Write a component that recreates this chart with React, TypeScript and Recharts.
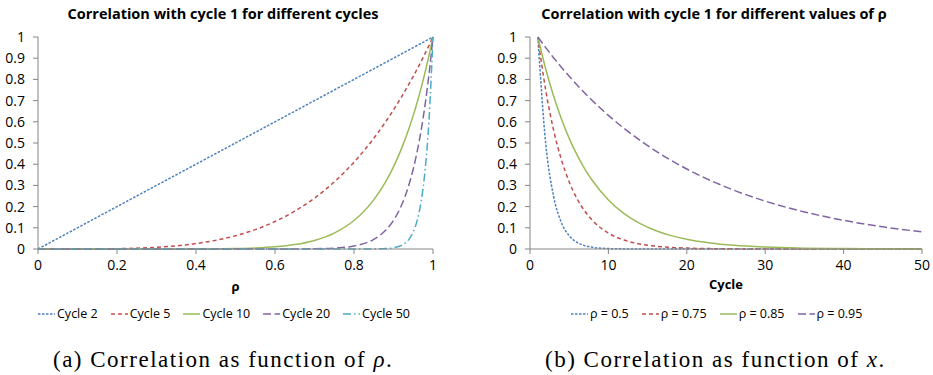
import { LineChart, Line, XAxis, YAxis } from 'recharts';

// ρ values sampled on the left panel
const rhoValues = [0, 0.1, 0.2, 0.3, 0.4, 0.5, 0.55, 0.6, 0.65, 0.7, 0.75, 0.8, 0.85, 0.88, 0.9, 0.92, 0.94, 0.95, 0.96, 0.97, 0.98, 0.99, 1];
const cycle2 = [0, 0.1, 0.2, 0.3, 0.4, 0.5, 0.55, 0.6, 0.65, 0.7, 0.75, 0.8, 0.85, 0.88, 0.9, 0.92, 0.94, 0.95, 0.96, 0.97, 0.98, 0.99, 1];
const cycle5 = [0, 0.0001, 0.0016, 0.0081, 0.0256, 0.0625, 0.0915, 0.1296, 0.1785, 0.2401, 0.3164, 0.4096, 0.522, 0.5997, 0.6561, 0.7164, 0.7807, 0.8145, 0.8493, 0.8853, 0.9224, 0.9606, 1];
const cycle10 = [0, 0, 0, 0.00002, 0.00026, 0.002, 0.0046, 0.0101, 0.0207, 0.0404, 0.0751, 0.1342, 0.2316, 0.3165, 0.3874, 0.4722, 0.573, 0.6302, 0.6925, 0.7602, 0.8337, 0.9135, 1];
const cycle20 = [0, 0, 0, 0, 0, 0, 0, 0.00006, 0.0003, 0.0011, 0.0042, 0.0144, 0.0456, 0.0881, 0.1351, 0.2049, 0.3086, 0.3774, 0.4604, 0.5606, 0.6812, 0.8262, 1];
const cycle50 = [0, 0, 0, 0, 0, 0, 0, 0, 0, 0, 0, 0, 0.0004, 0.0019, 0.0057, 0.0168, 0.0481, 0.081, 0.1351, 0.2249, 0.3716, 0.6111, 1];

// cycle numbers sampled on the right panel
const cycles = [1, 2, 3, 4, 5, 6, 7, 8, 10, 12, 14, 16, 18, 20, 23, 26, 30, 35, 40, 45, 50];
const rho050 = [1, 0.5, 0.25, 0.125, 0.0625, 0.0313, 0.0156, 0.0078, 0.002, 0.0005, 0.0001, 0, 0, 0, 0, 0, 0, 0, 0, 0, 0];
const rho075 = [1, 0.75, 0.5625, 0.4219, 0.3164, 0.2373, 0.178, 0.1335, 0.0751, 0.0422, 0.0238, 0.0134, 0.0075, 0.0042, 0.0018, 0.0008, 0.0002, 0.0001, 0, 0, 0];
const rho085 = [1, 0.85, 0.7225, 0.6141, 0.522, 0.4437, 0.3771, 0.3206, 0.2316, 0.1673, 0.1209, 0.0874, 0.0631, 0.0456, 0.028, 0.0172, 0.009, 0.004, 0.0018, 0.0008, 0.0004];
const rho095 = [1, 0.95, 0.9025, 0.8574, 0.8145, 0.7738, 0.7351, 0.6983, 0.6302, 0.5688, 0.5133, 0.4633, 0.4181, 0.3774, 0.3235, 0.2774, 0.2259, 0.1748, 0.1353, 0.1047, 0.081];

const yTicks = [0, 0.1, 0.2, 0.3, 0.4, 0.5, 0.6, 0.7, 0.8, 0.9, 1];
const rhoTicks = [0, 0.2, 0.4, 0.6, 0.8, 1];
const cycleTicks = [0, 10, 20, 30, 40, 50];

const leftData = rhoValues.map((r, i) => ({
  rho: r, c2: cycle2[i], c5: cycle5[i], c10: cycle10[i], c20: cycle20[i], c50: cycle50[i],
}));
const rightData = cycles.map((c, i) => ({
  cycle: c, r050: rho050[i], r075: rho075[i], r085: rho085[i], r095: rho095[i],
}));

// Excel 2007 palette + dash styles
const STYLES = [
  { color: '#4F81BD', dash: '2.5 1.5' },
  { color: '#C0504D', dash: '4 3' },
  { color: '#9BBB59', dash: undefined },
  { color: '#8064A2', dash: '8 3.5' },
  { color: '#4BACC6', dash: '8 3 1.5 3' },
];

const leftSeries = [
  { key: 'c2', name: 'Cycle 2' },
  { key: 'c5', name: 'Cycle 5' },
  { key: 'c10', name: 'Cycle 10' },
  { key: 'c20', name: 'Cycle 20' },
  { key: 'c50', name: 'Cycle 50' },
];
const rightSeries = [
  { key: 'r050', name: 'ρ = 0.5' },
  { key: 'r075', name: 'ρ = 0.75' },
  { key: 'r085', name: 'ρ = 0.85' },
  { key: 'r095', name: 'ρ = 0.95' },
];

const FONT = '"Open Sans", sans-serif';
const AXIS = '#868686';
const tickStyle = { fill: '#000', fontSize: 14, fontFamily: FONT };

function LegendRow({ series, left, top, gap }: { series: { key: string; name: string }[]; left: number; top: number; gap: number }) {
  return (
    <div style={{ position: 'absolute', left, top, display: 'flex', gap, fontFamily: FONT, fontSize: 12.5, lineHeight: '14px', color: '#000', whiteSpace: 'nowrap' }}>
      {series.map((s, i) => (
        <span key={s.key} style={{ display: 'flex', alignItems: 'center', gap: 2 }}>
          <svg width={17} height={10}>
            <line x1={0} y1={5} x2={17} y2={5} stroke={STYLES[i].color} strokeWidth={1.5} strokeDasharray={STYLES[i].dash} />
          </svg>
          {s.name}
        </span>
      ))}
    </div>
  );
}

function Title({ text, cx }: { text: string; cx: number }) {
  return (
    <div style={{ position: 'absolute', left: cx - 250, width: 500, top: 5, textAlign: 'center', fontFamily: FONT, fontWeight: 700, fontSize: 14.5, lineHeight: '18px', color: '#000' }}>
      {text}
    </div>
  );
}

function Caption({ left, children }: { left: number; children: any }) {
  return (
    <div style={{ position: 'absolute', left, top: 348, fontFamily: '"Liberation Serif", serif', fontSize: 23, letterSpacing: 1.5, lineHeight: '23px', color: '#000', whiteSpace: 'nowrap' }}>
      {children}
    </div>
  );
}

export default function App() {
  return (
    <div style={{ position: 'absolute', left: 0, top: 0, width: 933, height: 375, background: '#fff', overflow: 'hidden' }}>
      <Title text="Correlation with cycle 1 for different cycles" cx={223} />
      <Title text="Correlation with cycle 1 for different values of ρ" cx={714} />

      <div style={{ position: 'absolute', left: 0, top: 0 }}>
        <LineChart width={470} height={300} data={leftData} margin={{ top: 37, right: 37, left: 8, bottom: 6 }}>
          <XAxis
            dataKey="rho" type="number" domain={[0, 1]} ticks={rhoTicks} height={45}
            stroke={AXIS} tickSize={5} tickMargin={6} tick={tickStyle}
            label={{ value: 'ρ', position: 'insideBottom', offset: 3, fill: '#000', fontSize: 13, fontWeight: 700, fontFamily: FONT }}
          />
          <YAxis
            type="number" domain={[0, 1]} ticks={yTicks} width={30}
            stroke={AXIS} tickSize={5} tickMargin={8} tick={tickStyle}
          />
          {leftSeries.map((s, i) => (
            <Line key={s.key} dataKey={s.key} name={s.name} type="monotone" stroke={STYLES[i].color} strokeWidth={1.5}
              strokeDasharray={STYLES[i].dash} dot={false} activeDot={false} isAnimationActive={false} />
          ))}
        </LineChart>
      </div>

      <div style={{ position: 'absolute', left: 465, top: 0 }}>
        <LineChart width={468} height={300} data={rightData} margin={{ top: 37, right: 11, left: 35, bottom: 6 }}>
          <XAxis
            dataKey="cycle" type="number" domain={[0, 50]} ticks={cycleTicks} height={45}
            stroke={AXIS} tickSize={5} tickMargin={6} tick={tickStyle}
            label={{ value: 'Cycle', position: 'insideBottom', offset: 5, fill: '#000', fontSize: 13, fontWeight: 700, fontFamily: FONT }}
          />
          <YAxis
            type="number" domain={[0, 1]} ticks={yTicks} width={30}
            stroke={AXIS} tickSize={5} tickMargin={8} tick={tickStyle}
          />
          {rightSeries.map((s, i) => (
            <Line key={s.key} dataKey={s.key} name={s.name} type="monotone" stroke={STYLES[i].color} strokeWidth={1.5}
              strokeDasharray={STYLES[i].dash} dot={false} activeDot={false} isAnimationActive={false} />
          ))}
        </LineChart>
      </div>

      <LegendRow series={leftSeries} left={38} top={307} gap={13} />
      <LegendRow series={rightSeries} left={571} top={307} gap={13} />

      <Caption left={53}>(a) Correlation as function of <i>ρ</i>.</Caption>
      <Caption left={545}>(b) Correlation as function of <i>x</i>.</Caption>
    </div>
  );
}
